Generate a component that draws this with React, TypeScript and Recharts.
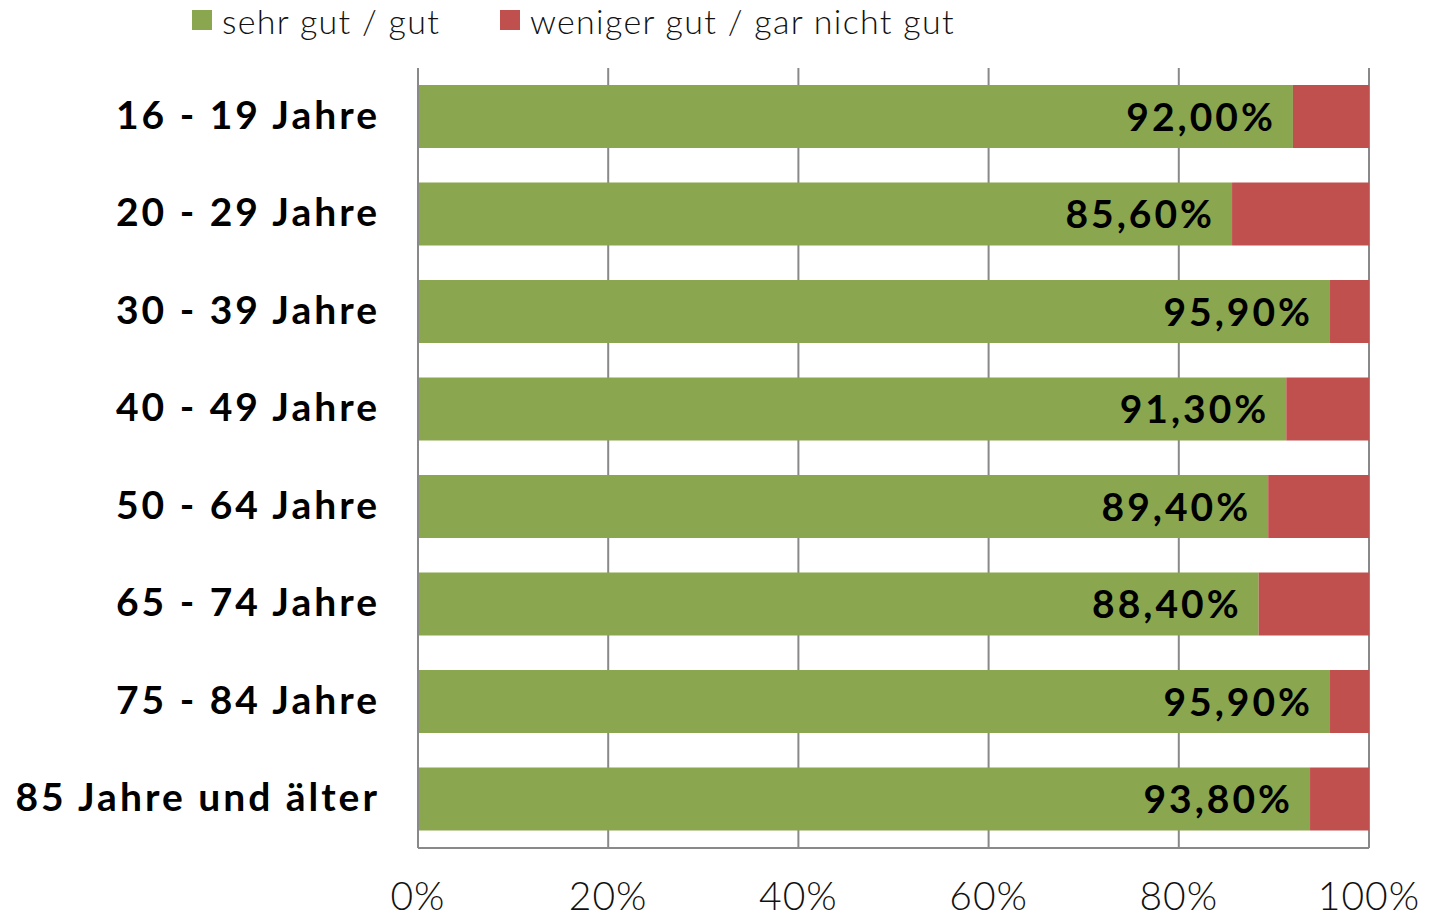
import React from "react";
import { BarChart, Bar, XAxis, YAxis, CartesianGrid, LabelList } from "recharts";

const categories = [
  "16 - 19 Jahre",
  "20 - 29 Jahre",
  "30 - 39 Jahre",
  "40 - 49 Jahre",
  "50 - 64 Jahre",
  "65 - 74 Jahre",
  "75 - 84 Jahre",
  "85 Jahre und älter",
];
const gut = [92.0, 85.6, 95.9, 91.3, 89.4, 88.4, 95.9, 93.8];
const nichtGut = [8.0, 14.4, 4.1, 8.7, 10.6, 11.6, 4.1, 6.2];
const xTicks = [0, 20, 40, 60, 80, 100];

const GREEN = "#8aa64f";
const RED = "#c0504d";
const GRID = "#898989";
const FONT = "Lato, 'Open Sans', sans-serif";

const data = categories.map((name, i) => ({ name, gut: gut[i], nichtGut: nichtGut[i] }));

function fmt(v: number) {
  return v.toFixed(2).replace(".", ",") + "%";
}

function XTick({ x, y, payload }: any) {
  return (
    <text x={x} y={y + 54} textAnchor="middle" fontFamily={FONT} fontWeight={300} fontSize={39} letterSpacing={1} fill="#111">
      {payload.value}%
    </text>
  );
}

function YTick({ x, y, payload }: any) {
  return (
    <text x={x - 30} y={y} dy={12} textAnchor="end" fontFamily={FONT} fontWeight={700} fontSize={39} letterSpacing={3} fill="#000">
      {payload.value}
    </text>
  );
}

function ValueLabel({ x, y, width, height, value }: any) {
  return (
    <text
      x={x + width - 17}
      y={y + height / 2}
      dy={14}
      textAnchor="end"
      fontFamily={FONT}
      fontWeight={700}
      fontSize={39}
      letterSpacing={3}
      fill="#000"
    >
      {fmt(value)}
    </text>
  );
}

function ChartLegend() {
  const items = [
    { label: "sehr gut / gut", color: GREEN, left: 192 },
    { label: "weniger gut / gar nicht gut", color: RED, left: 500 },
  ];
  return (
    <>
      {items.map((it) => (
        <div
          key={it.label}
          style={{
            position: "absolute",
            left: it.left,
            top: -3,
            height: 46,
            display: "flex",
            alignItems: "center",
            fontFamily: FONT,
            fontWeight: 300,
            fontSize: 34,
            letterSpacing: 1.3,
            color: "#111",
            whiteSpace: "nowrap",
          }}
        >
          <span style={{ width: 20, height: 20, background: it.color, marginRight: 10, display: "inline-block" }} />
          <span>{it.label}</span>
        </div>
      ))}
    </>
  );
}

export default function App() {
  return (
    <div style={{ position: "absolute", left: 0, top: 0, width: 1432, height: 918, background: "#fff" }}>
      <BarChart
        width={1432}
        height={918}
        data={data}
        layout="vertical"
        margin={{ top: 68, right: 63, bottom: 0, left: 0 }}
        barSize={63}
      >
        <CartesianGrid horizontal={false} stroke={GRID} strokeWidth={2} />
        <XAxis
          type="number"
          domain={[0, 100]}
          ticks={xTicks}
          height={70}
          tick={<XTick />}
          tickLine={false}
          axisLine={{ stroke: GRID, strokeWidth: 2 }}
          interval={0}
        />
        <YAxis
          type="category"
          dataKey="name"
          width={418}
          tick={<YTick />}
          tickLine={false}
          axisLine={{ stroke: GRID, strokeWidth: 2 }}
          interval={0}
        />
        <Bar dataKey="gut" stackId="a" fill={GREEN} isAnimationActive={false}>
          <LabelList dataKey="gut" content={<ValueLabel />} />
        </Bar>
        <Bar dataKey="nichtGut" stackId="a" fill={RED} isAnimationActive={false} />
      </BarChart>
      <ChartLegend />
    </div>
  );
}
